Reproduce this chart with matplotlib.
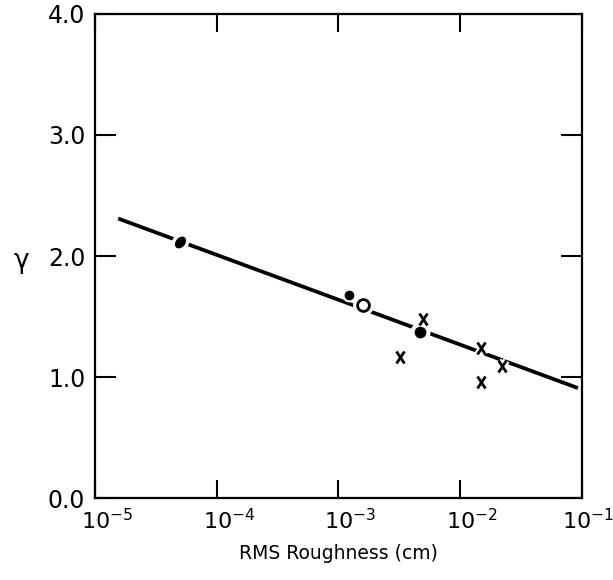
import matplotlib
matplotlib.use("Agg")
import matplotlib.pyplot as plt
from matplotlib.ticker import FixedLocator, NullLocator
from matplotlib.markers import MarkerStyle
from matplotlib.transforms import Affine2D, ScaledTranslation

plt.rcParams['font.family'] = ['DejaVu Sans']
plt.rcParams['mathtext.fontset'] = 'dejavusans'

# Fitted line
fit_x = [1.55e-5, 9.3e-2]
fit_y = [2.31, 0.91]

# Data groups
diamond_x = [5.0e-5]
diamond_y = [2.12]
filled_x = [1.23e-3]
filled_y = [1.68]
open_x = [1.58e-3]
open_y = [1.60]
bigfilled_x = [4.7e-3]
bigfilled_y = [1.37]
cross_x = [5.0e-3, 3.2e-3, 1.5e-2, 1.5e-2, 2.2e-2]
cross_y = [1.48, 1.17, 1.24, 0.96, 1.09]

xticks = [1e-5, 1e-4, 1e-3, 1e-2, 1e-1]
xticklabels = ['$\\mathregular{10^{-5}}$', '$\\mathregular{10^{-4}}$',
               '$\\mathregular{10^{-3}}$', '$\\mathregular{10^{-2}}$',
               '$\\mathregular{10^{-1}}$']
yticks = [0.0, 1.0, 2.0, 3.0, 4.0]
yticklabels = ['0.0', '1.0', '2.0', '3.0', '4.0']

fig = plt.figure(figsize=(6.13, 5.80), dpi=100)
ax = fig.add_axes([0.155, 0.141, 0.794, 0.835])

ax.plot(fit_x, fit_y, color='black', lw=2.7, solid_capstyle='butt', zorder=2)

ell = MarkerStyle('o', transform=Affine2D().scale(0.85, 1.1).rotate_deg(-40))
ax.plot(diamond_x, diamond_y, marker=ell, ms=11, mfc='black', mec='white', mew=2.5,
        ls='none', zorder=3)
ax.plot(filled_x, filled_y, marker='o', ms=8.5, mfc='black', mec='white', mew=1.5,
        ls='none', zorder=3)
ax.plot(open_x, open_y, marker='o', ms=11, mfc='white', mec='white', mew=4,
        ls='none', zorder=3)
ax.plot(open_x, open_y, marker='o', ms=8.5, mfc='white', mec='black', mew=2.0,
        ls='none', zorder=4)
ax.plot(bigfilled_x, bigfilled_y, marker='o', ms=11.5, mfc='black', mec='white', mew=3,
        ls='none', zorder=3)
xmk = MarkerStyle('x', transform=Affine2D().scale(0.8, 1.15))
ax.plot(cross_x, cross_y, marker=xmk, ms=7, mec='white', mew=5,
        ls='none', zorder=3)
ax.plot(cross_x, cross_y, marker=xmk, ms=7, mec='black', mew=2.0,
        ls='none', zorder=4)

ax.set_xscale('log')
ax.set_xlim(1e-5, 1e-1)
ax.set_ylim(0, 4)
ax.xaxis.set_major_locator(FixedLocator(xticks))
ax.xaxis.set_minor_locator(NullLocator())
ax.set_xticks(xticks)
ax.set_xticklabels(xticklabels)
ax.set_yticks(yticks)
ax.set_yticklabels(yticklabels)

ax.tick_params(axis='y', which='major', direction='in', length=15, width=1.5,
               left=True, right=True, labelsize=17, pad=7, colors='black')
ax.tick_params(axis='x', which='major', direction='in', length=13, width=1.5,
               bottom=True, top=True, labelsize=16, pad=7, colors='black')
labels = ax.get_xticklabels()
for i, lab in enumerate(labels):
    shift = -20 if i == len(labels) - 1 else -14
    off = ScaledTranslation(shift / 100, 0, fig.dpi_scale_trans)
    lab.set_horizontalalignment('left')
    lab.set_transform(lab.get_transform() + off)
for s in ax.spines.values():
    s.set_linewidth(1.6)

ax.set_xlabel('RMS Roughness (cm)', fontsize=13.5, labelpad=8)
ax.set_ylabel('γ', fontsize=19, rotation=0, va='center', ha='center')
ax.yaxis.set_label_coords(-0.152, 0.49)

fig.savefig('out.png', dpi=100)
